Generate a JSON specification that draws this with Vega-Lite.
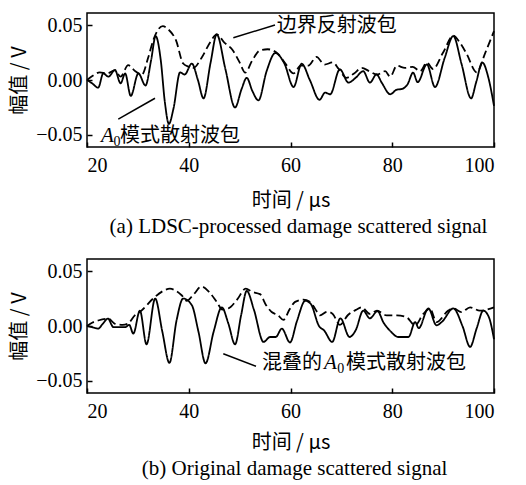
{
  "$schema": "https://vega.github.io/schema/vega-lite/v6.json",
  "background": "white",
  "padding": {"left": 8, "top": 12, "right": 20, "bottom": 5},
  "spacing": 20,
  "config": {
    "view": {"stroke": "black", "strokeWidth": 1.5},
    "axis": {"labelFont": "Liberation Serif", "labelFontSize": 20, "labelColor": "black", "titleFont": "Noto Sans CJK SC", "titleFontSize": 20, "titleFontWeight": "normal", "titleColor": "black", "grid": false, "domain": false, "tickColor": "black", "tickSize": -5, "tickWidth": 1.5},
    "line": {"color": "black", "strokeWidth": 1.8, "interpolate": "monotone"},
    "rule": {"color": "black", "strokeWidth": 1.5},
    "text": {"color": "black"}
  },
  "datasets": {
    "a": [
      {"t":20.0,"v":0.000,"s":"solid"},{"t":21.0,"v":-0.003,"s":"solid"},{"t":22.2,"v":-0.007,"s":"solid"},{"t":23.2,"v":0.006,"s":"solid"},{"t":24.2,"v":0.003,"s":"solid"},{"t":25.5,"v":0.009,"s":"solid"},{"t":26.6,"v":-0.003,"s":"solid"},{"t":27.5,"v":0.006,"s":"solid"},{"t":28.6,"v":-0.0145,"s":"solid"},{"t":30.1,"v":0.006,"s":"solid"},{"t":31.5,"v":-0.005,"s":"solid"},{"t":32.6,"v":0.018,"s":"solid"},{"t":33.5,"v":0.040,"s":"solid"},{"t":34.5,"v":0.018,"s":"solid"},{"t":35.3,"v":-0.020,"s":"solid"},{"t":36.1,"v":-0.040,"s":"solid"},{"t":37.0,"v":-0.026,"s":"solid"},{"t":38.3,"v":0.007,"s":"solid"},{"t":39.2,"v":0.005,"s":"solid"},{"t":40.6,"v":0.015,"s":"solid"},{"t":41.8,"v":0.000,"s":"solid"},{"t":42.9,"v":-0.0167,"s":"solid"},{"t":44.3,"v":0.016,"s":"solid"},{"t":45.5,"v":0.0415,"s":"solid"},{"t":47.2,"v":0.010,"s":"solid"},{"t":49.1,"v":-0.025,"s":"solid"},{"t":50.4,"v":-0.008,"s":"solid"},{"t":51.4,"v":0.002,"s":"solid"},{"t":52.5,"v":-0.010,"s":"solid"},{"t":53.7,"v":-0.0185,"s":"solid"},{"t":55.3,"v":0.008,"s":"solid"},{"t":57.0,"v":0.0245,"s":"solid"},{"t":58.8,"v":0.015,"s":"solid"},{"t":60.6,"v":-0.0064,"s":"solid"},{"t":62.2,"v":0.0148,"s":"solid"},{"t":63.8,"v":0.000,"s":"solid"},{"t":65.7,"v":-0.018,"s":"solid"},{"t":66.8,"v":-0.0115,"s":"solid"},{"t":67.8,"v":-0.013,"s":"solid"},{"t":69.7,"v":0.0097,"s":"solid"},{"t":71.4,"v":-0.0024,"s":"solid"},{"t":72.8,"v":0.002,"s":"solid"},{"t":74.3,"v":0.008,"s":"solid"},{"t":75.6,"v":-0.0024,"s":"solid"},{"t":76.9,"v":0.005,"s":"solid"},{"t":78.0,"v":-0.003,"s":"solid"},{"t":79.6,"v":-0.013,"s":"solid"},{"t":80.8,"v":-0.009,"s":"solid"},{"t":82.0,"v":-0.008,"s":"solid"},{"t":83.0,"v":-0.004,"s":"solid"},{"t":84.1,"v":0.0067,"s":"solid"},{"t":85.0,"v":-0.002,"s":"solid"},{"t":86.8,"v":0.0142,"s":"solid"},{"t":88.4,"v":-0.0064,"s":"solid"},{"t":90.3,"v":0.020,"s":"solid"},{"t":92.0,"v":0.040,"s":"solid"},{"t":93.6,"v":0.015,"s":"solid"},{"t":95.5,"v":-0.0167,"s":"solid"},{"t":96.5,"v":-0.002,"s":"solid"},{"t":97.7,"v":0.016,"s":"solid"},{"t":98.9,"v":0.002,"s":"solid"},{"t":100.0,"v":-0.0236,"s":"solid"},
      {"t":20.0,"v":0.000,"s":"dashed"},{"t":21.2,"v":0.004,"s":"dashed"},{"t":22.5,"v":0.007,"s":"dashed"},{"t":24.0,"v":0.006,"s":"dashed"},{"t":25.5,"v":0.009,"s":"dashed"},{"t":26.6,"v":0.003,"s":"dashed"},{"t":28.1,"v":0.0135,"s":"dashed"},{"t":29.5,"v":0.008,"s":"dashed"},{"t":30.8,"v":0.005,"s":"dashed"},{"t":32.0,"v":0.020,"s":"dashed"},{"t":33.0,"v":0.036,"s":"dashed"},{"t":34.0,"v":0.046,"s":"dashed"},{"t":34.9,"v":0.049,"s":"dashed"},{"t":36.0,"v":0.046,"s":"dashed"},{"t":37.5,"v":0.036,"s":"dashed"},{"t":38.9,"v":0.015,"s":"dashed"},{"t":40.0,"v":0.012,"s":"dashed"},{"t":40.9,"v":0.011,"s":"dashed"},{"t":42.5,"v":0.020,"s":"dashed"},{"t":44.3,"v":0.035,"s":"dashed"},{"t":45.5,"v":0.0415,"s":"dashed"},{"t":47.0,"v":0.034,"s":"dashed"},{"t":48.5,"v":0.028,"s":"dashed"},{"t":50.0,"v":0.016,"s":"dashed"},{"t":51.1,"v":0.0067,"s":"dashed"},{"t":52.5,"v":0.018,"s":"dashed"},{"t":54.0,"v":0.027,"s":"dashed"},{"t":55.5,"v":0.028,"s":"dashed"},{"t":57.5,"v":0.024,"s":"dashed"},{"t":59.0,"v":0.015,"s":"dashed"},{"t":60.6,"v":0.006,"s":"dashed"},{"t":62.0,"v":0.013,"s":"dashed"},{"t":63.5,"v":0.013,"s":"dashed"},{"t":65.1,"v":0.021,"s":"dashed"},{"t":66.7,"v":0.014,"s":"dashed"},{"t":68.3,"v":0.016,"s":"dashed"},{"t":69.5,"v":0.010,"s":"dashed"},{"t":71.0,"v":0.002,"s":"dashed"},{"t":72.5,"v":0.006,"s":"dashed"},{"t":74.0,"v":0.011,"s":"dashed"},{"t":75.5,"v":0.008,"s":"dashed"},{"t":77.0,"v":0.005,"s":"dashed"},{"t":78.6,"v":0.008,"s":"dashed"},{"t":79.6,"v":0.003,"s":"dashed"},{"t":80.9,"v":0.013,"s":"dashed"},{"t":82.5,"v":0.011,"s":"dashed"},{"t":84.0,"v":0.012,"s":"dashed"},{"t":85.5,"v":0.008,"s":"dashed"},{"t":86.8,"v":0.016,"s":"dashed"},{"t":88.0,"v":0.010,"s":"dashed"},{"t":90.0,"v":0.025,"s":"dashed"},{"t":92.0,"v":0.0405,"s":"dashed"},{"t":93.3,"v":0.034,"s":"dashed"},{"t":94.6,"v":0.024,"s":"dashed"},{"t":96.6,"v":0.007,"s":"dashed"},{"t":98.3,"v":0.025,"s":"dashed"},{"t":100.0,"v":0.0445,"s":"dashed"}
    ],
    "b": [
      {"t":20.0,"v":0.000,"s":"solid"},{"t":21.0,"v":-0.001,"s":"solid"},{"t":22.2,"v":-0.0024,"s":"solid"},{"t":23.1,"v":0.002,"s":"solid"},{"t":24.1,"v":0.0067,"s":"solid"},{"t":25.2,"v":-0.001,"s":"solid"},{"t":26.5,"v":-0.001,"s":"solid"},{"t":27.5,"v":-0.001,"s":"solid"},{"t":28.3,"v":0.001,"s":"solid"},{"t":29.1,"v":-0.007,"s":"solid"},{"t":30.4,"v":0.014,"s":"solid"},{"t":31.7,"v":-0.0167,"s":"solid"},{"t":33.4,"v":0.025,"s":"solid"},{"t":34.8,"v":-0.005,"s":"solid"},{"t":36.2,"v":-0.0336,"s":"solid"},{"t":37.6,"v":0.005,"s":"solid"},{"t":38.9,"v":0.025,"s":"solid"},{"t":40.6,"v":0.019,"s":"solid"},{"t":41.9,"v":-0.005,"s":"solid"},{"t":43.3,"v":-0.034,"s":"solid"},{"t":44.9,"v":-0.005,"s":"solid"},{"t":46.5,"v":0.017,"s":"solid"},{"t":47.8,"v":0.002,"s":"solid"},{"t":49.1,"v":-0.0167,"s":"solid"},{"t":50.3,"v":0.010,"s":"solid"},{"t":51.4,"v":0.032,"s":"solid"},{"t":52.8,"v":0.015,"s":"solid"},{"t":54.7,"v":-0.0145,"s":"solid"},{"t":56.0,"v":-0.010,"s":"solid"},{"t":57.1,"v":-0.010,"s":"solid"},{"t":58.3,"v":-0.0024,"s":"solid"},{"t":59.9,"v":-0.015,"s":"solid"},{"t":61.3,"v":0.005,"s":"solid"},{"t":62.9,"v":0.023,"s":"solid"},{"t":64.0,"v":0.020,"s":"solid"},{"t":65.6,"v":0.000,"s":"solid"},{"t":66.6,"v":-0.004,"s":"solid"},{"t":68.2,"v":-0.0145,"s":"solid"},{"t":69.8,"v":0.007,"s":"solid"},{"t":71.6,"v":-0.010,"s":"solid"},{"t":72.8,"v":-0.004,"s":"solid"},{"t":74.3,"v":0.014,"s":"solid"},{"t":75.6,"v":0.007,"s":"solid"},{"t":77.1,"v":0.0135,"s":"solid"},{"t":78.3,"v":0.003,"s":"solid"},{"t":79.5,"v":-0.004,"s":"solid"},{"t":81.2,"v":-0.010,"s":"solid"},{"t":83.2,"v":-0.010,"s":"solid"},{"t":84.5,"v":0.0036,"s":"solid"},{"t":85.2,"v":-0.002,"s":"solid"},{"t":87.1,"v":0.016,"s":"solid"},{"t":88.7,"v":0.0006,"s":"solid"},{"t":89.8,"v":0.004,"s":"solid"},{"t":92.0,"v":0.016,"s":"solid"},{"t":93.8,"v":0.000,"s":"solid"},{"t":95.3,"v":-0.019,"s":"solid"},{"t":96.6,"v":-0.002,"s":"solid"},{"t":97.9,"v":0.014,"s":"solid"},{"t":99.0,"v":0.008,"s":"solid"},{"t":100.0,"v":-0.012,"s":"solid"},
      {"t":20.0,"v":0.000,"s":"dashed"},{"t":21.0,"v":0.003,"s":"dashed"},{"t":22.2,"v":0.005,"s":"dashed"},{"t":24.2,"v":0.0067,"s":"dashed"},{"t":25.5,"v":0.002,"s":"dashed"},{"t":27.0,"v":0.001,"s":"dashed"},{"t":28.0,"v":0.002,"s":"dashed"},{"t":29.4,"v":0.0097,"s":"dashed"},{"t":30.7,"v":0.014,"s":"dashed"},{"t":33.0,"v":0.025,"s":"dashed"},{"t":35.0,"v":0.032,"s":"dashed"},{"t":36.3,"v":0.034,"s":"dashed"},{"t":37.5,"v":0.032,"s":"dashed"},{"t":38.6,"v":0.028,"s":"dashed"},{"t":39.6,"v":0.023,"s":"dashed"},{"t":41.0,"v":0.029,"s":"dashed"},{"t":42.5,"v":0.036,"s":"dashed"},{"t":44.0,"v":0.031,"s":"dashed"},{"t":45.5,"v":0.022,"s":"dashed"},{"t":46.6,"v":0.015,"s":"dashed"},{"t":47.8,"v":0.016,"s":"dashed"},{"t":49.5,"v":0.024,"s":"dashed"},{"t":51.2,"v":0.034,"s":"dashed"},{"t":52.5,"v":0.031,"s":"dashed"},{"t":54.0,"v":0.029,"s":"dashed"},{"t":55.2,"v":0.019,"s":"dashed"},{"t":56.3,"v":0.0127,"s":"dashed"},{"t":57.5,"v":0.010,"s":"dashed"},{"t":58.6,"v":0.0055,"s":"dashed"},{"t":59.8,"v":0.015,"s":"dashed"},{"t":60.9,"v":0.022,"s":"dashed"},{"t":62.5,"v":0.024,"s":"dashed"},{"t":63.8,"v":0.022,"s":"dashed"},{"t":64.8,"v":0.016,"s":"dashed"},{"t":65.8,"v":0.0097,"s":"dashed"},{"t":67.2,"v":0.013,"s":"dashed"},{"t":68.3,"v":0.011,"s":"dashed"},{"t":69.7,"v":0.001,"s":"dashed"},{"t":71.3,"v":0.010,"s":"dashed"},{"t":73.0,"v":0.015,"s":"dashed"},{"t":74.0,"v":0.017,"s":"dashed"},{"t":75.6,"v":0.011,"s":"dashed"},{"t":77.0,"v":0.014,"s":"dashed"},{"t":78.9,"v":0.0097,"s":"dashed"},{"t":80.9,"v":0.0097,"s":"dashed"},{"t":82.8,"v":0.008,"s":"dashed"},{"t":84.5,"v":0.0006,"s":"dashed"},{"t":86.1,"v":0.011,"s":"dashed"},{"t":87.4,"v":0.0158,"s":"dashed"},{"t":88.7,"v":0.0036,"s":"dashed"},{"t":91.0,"v":0.014,"s":"dashed"},{"t":92.0,"v":0.016,"s":"dashed"},{"t":93.6,"v":0.0127,"s":"dashed"},{"t":95.3,"v":0.017,"s":"dashed"},{"t":97.2,"v":0.014,"s":"dashed"},{"t":100.0,"v":0.017,"s":"dashed"}
    ]
  },
  "vconcat": [
    {
      "width": 407,
      "height": 134,
      "title": {"text": "(a) LDSC-processed damage scattered signal", "orient": "bottom", "font": "Liberation Serif", "fontSize": 21, "fontWeight": "normal", "color": "black", "frame": "group", "anchor": "middle", "offset": 6, "dx": 8},
      "layer": [
        {
          "data": {"name": "a"},
          "mark": {"type": "line"},
          "encoding": {
            "x": {"field": "t", "type": "quantitative", "scale": {"domain": [20, 100], "nice": false}, "axis": {"values": [20, 40, 60, 80, 100], "title": "时间 / μs", "labelFont": "Liberation Serif", "labelFontSize": 20, "labelPadding": 13, "titlePadding": 15}},
            "y": {"field": "v", "type": "quantitative", "scale": {"domain": [-0.061, 0.061], "nice": false}, "axis": {"values": [-0.05, 0, 0.05], "format": ".2f", "title": "幅值 / V", "labelFont": "Liberation Serif", "labelFontSize": 20, "labelPadding": 10, "titlePadding": 6}},
            "strokeDash": {"field": "s", "type": "nominal", "scale": {"domain": ["solid", "dashed"], "range": [[1, 0], [8, 4]]}, "legend": null}
          }
        },
        {
          "data": {"values": [{"x1": 48.76, "y1": 0.0385, "x2": 56.95, "y2": 0.05}, {"x1": 26.15, "y1": -0.0357, "x2": 33.37, "y2": -0.0166}]},
          "mark": {"type": "rule"},
          "encoding": {"x": {"field": "x1", "type": "quantitative"}, "y": {"field": "y1", "type": "quantitative"}, "x2": {"field": "x2"}, "y2": {"field": "y2"}}
        },
        {
          "data": {"values": [{"x": 57.3, "y": 0.049, "label": "边界反射波包"}, {"x": 26.5, "y": -0.051, "label": "模式散射波包"}]},
          "mark": {"type": "text", "align": "left", "baseline": "middle", "font": "Noto Sans CJK SC", "fontSize": 20},
          "encoding": {"x": {"field": "x", "type": "quantitative"}, "y": {"field": "y", "type": "quantitative"}, "text": {"field": "label"}}
        },
        {
          "data": {"values": [{"x": 22.75, "y": -0.051, "label": "A"}]},
          "mark": {"type": "text", "align": "left", "baseline": "middle", "font": "Liberation Serif", "fontStyle": "italic", "fontSize": 21},
          "encoding": {"x": {"field": "x", "type": "quantitative"}, "y": {"field": "y", "type": "quantitative"}, "text": {"field": "label"}}
        },
        {
          "data": {"values": [{"x": 25.2, "y": -0.0565, "label": "0"}]},
          "mark": {"type": "text", "align": "left", "baseline": "middle", "font": "Liberation Serif", "fontSize": 14},
          "encoding": {"x": {"field": "x", "type": "quantitative"}, "y": {"field": "y", "type": "quantitative"}, "text": {"field": "label"}}
        }
      ]
    },
    {
      "width": 407,
      "height": 134,
      "title": {"text": "(b) Original damage scattered signal", "orient": "bottom", "font": "Liberation Serif", "fontSize": 21, "fontWeight": "normal", "color": "black", "frame": "group", "anchor": "middle", "offset": 6, "dx": 4},
      "layer": [
        {
          "data": {"name": "b"},
          "mark": {"type": "line"},
          "encoding": {
            "x": {"field": "t", "type": "quantitative", "scale": {"domain": [20, 100], "nice": false}, "axis": {"values": [20, 40, 60, 80, 100], "title": "时间 / μs", "labelFont": "Liberation Serif", "labelFontSize": 20, "labelPadding": 13, "titlePadding": 11}},
            "y": {"field": "v", "type": "quantitative", "scale": {"domain": [-0.061, 0.061], "nice": false}, "axis": {"values": [-0.05, 0, 0.05], "format": ".2f", "title": "幅值 / V", "labelFont": "Liberation Serif", "labelFontSize": 20, "labelPadding": 10, "titlePadding": 6}},
            "strokeDash": {"field": "s", "type": "nominal", "scale": {"domain": ["solid", "dashed"], "range": [[1, 0], [8, 4]]}, "legend": null}
          }
        },
        {
          "data": {"values": [{"x1": 46.79, "y1": -0.0252, "x2": 53.22, "y2": -0.0366}]},
          "mark": {"type": "rule"},
          "encoding": {"x": {"field": "x1", "type": "quantitative"}, "y": {"field": "y1", "type": "quantitative"}, "x2": {"field": "x2"}, "y2": {"field": "y2"}}
        },
        {
          "data": {"values": [{"x": 54.4, "y": -0.0336, "label": "混叠的"}, {"x": 70.9, "y": -0.0336, "label": "模式散射波包"}]},
          "mark": {"type": "text", "align": "left", "baseline": "middle", "font": "Noto Sans CJK SC", "fontSize": 20},
          "encoding": {"x": {"field": "x", "type": "quantitative"}, "y": {"field": "y", "type": "quantitative"}, "text": {"field": "label"}}
        },
        {
          "data": {"values": [{"x": 66.6, "y": -0.0336, "label": "A"}]},
          "mark": {"type": "text", "align": "left", "baseline": "middle", "font": "Liberation Serif", "fontStyle": "italic", "fontSize": 21},
          "encoding": {"x": {"field": "x", "type": "quantitative"}, "y": {"field": "y", "type": "quantitative"}, "text": {"field": "label"}}
        },
        {
          "data": {"values": [{"x": 69.2, "y": -0.039, "label": "0"}]},
          "mark": {"type": "text", "align": "left", "baseline": "middle", "font": "Liberation Serif", "fontSize": 14},
          "encoding": {"x": {"field": "x", "type": "quantitative"}, "y": {"field": "y", "type": "quantitative"}, "text": {"field": "label"}}
        }
      ]
    }
  ]
}
